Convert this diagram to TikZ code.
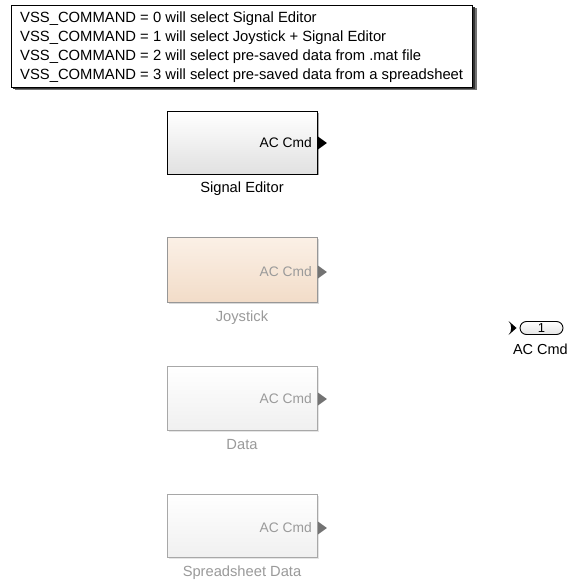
\documentclass[tikz,border=0pt]{standalone}
\usepackage{fontspec}
\setmainfont{Liberation Sans}
\definecolor{dimtext}{HTML}{9A9A9A}
\definecolor{dimline}{HTML}{A8A8A8}
\definecolor{peachtop}{HTML}{FBF0E6}
\definecolor{peachbot}{HTML}{F2DCC8}
\tikzset{
  x=1pt, y=-1pt,
  blk/.style={draw, line width=0.9pt, minimum width=150pt, minimum height=63pt,
    inner sep=0pt, top color=white, bottom color=black!12},
  dimblk/.style={blk, draw=dimline, top color=white, bottom color=black!6},
  portlbl/.style={anchor=east, font=\fontsize{13.8}{14}\selectfont, inner sep=0pt},
  blklbl/.style={anchor=base, font=\fontsize{14.7}{15}\selectfont, inner sep=0pt},
  noteline/.style={anchor=base west, inner sep=0pt, font=\fontsize{14.8}{15}\selectfont},
}
\newcommand{\outtip}[2]{% port triangle at anchor #1 with colour #2
  \fill[#2] (#1) ++(0,-6.5) -- ++(9,6.5) -- ++(-9,6.5) -- cycle;}
\begin{document}
\begin{tikzpicture}
\useasboundingbox (0,0) rectangle (569,580);
\fill[white] (0,0) rectangle (569,580);

% annotation with drop shadow
\fill[black!55] (15,8) rectangle (477,90);
\fill[black!80] (13,7) rectangle (475,89);
\node[draw, fill=white, line width=0.8pt, anchor=north west, minimum width=461pt,
  minimum height=82pt, inner sep=0pt] (note) at (11,5) {};
\node[noteline] (n0) at (20,22.2) {VSS\_COMMAND = 0 will select Signal Editor};
\node[noteline] (n1) at (20,41.4) {VSS\_COMMAND = 1 will select Joystick + Signal Editor};
\node[noteline] (n2) at (20,60.6) {VSS\_COMMAND = 2 will select pre-saved data from .mat file};
\node[noteline] (n3) at (20,79.8) {VSS\_COMMAND = 3 will select pre-saved data from a spreadsheet};

% Signal Editor block (active)
\fill[black!35] (169,113) rectangle (319,175);
\node[blk, anchor=north west] (sig) at (167,111) {};
\node[portlbl] (sigp) at (312,143) {AC Cmd};
\coordinate (sigo) at (sig.east |- sigp);
\outtip{sigo}{black}
\node[blklbl] (sigl) at (242,192.5) {Signal Editor};

% Joystick block (commented out)
\fill[black!15] (169,239) rectangle (319,304);
\node[blk, draw=dimline!90!black, top color=peachtop, bottom color=peachbot,
  minimum height=65pt, anchor=north west] (joy) at (167,237) {};
\node[portlbl, text=dimtext] (joyp) at (312,272) {AC Cmd};
\coordinate (joyo) at (joy.east |- joyp);
\outtip{joyo}{black!55}
\node[blklbl, text=dimtext] (joyl) at (242,321.5) {Joystick};

% Data block (commented out)
\fill[black!10] (169,368) rectangle (319,432);
\node[dimblk, minimum height=64pt, anchor=north west] (dat) at (167,366) {};
\node[portlbl, text=dimtext] (datp) at (312,399) {AC Cmd};
\coordinate (dato) at (dat.east |- datp);
\outtip{dato}{black!55}
\node[blklbl, text=dimtext] (datl) at (242,449.5) {Data};

% Spreadsheet Data block (commented out)
\fill[black!10] (169,496) rectangle (319,559);
\node[dimblk, anchor=north west] (spr) at (167,494) {};
\node[portlbl, text=dimtext] (sprp) at (312,528) {AC Cmd};
\coordinate (spro) at (spr.east |- sprp);
\outtip{spro}{black!55}
\node[blklbl, text=dimtext] (sprl) at (242,576) {Spreadsheet Data};

% Outport 1
\node[draw, rounded corners=6.5pt, line width=0.9pt, minimum width=43pt,
  minimum height=13pt, inner sep=0pt, top color=white, bottom color=black!10,
  font=\fontsize{13}{13}\selectfont] (out) at (541.5,328) {1};
\coordinate (outi) at (out.west);
\fill[black] (outi) ++(-11,-7) .. controls ++(3.5,3.5) and ++(3.5,-3.5) .. ++(0,14)
  -- ++(8,-7) -- cycle;
\node[anchor=base east, inner sep=0pt, font=\fontsize{14.5}{15}\selectfont]
  (outl) at (568,354) {AC Cmd};
\end{tikzpicture}
\end{document}
